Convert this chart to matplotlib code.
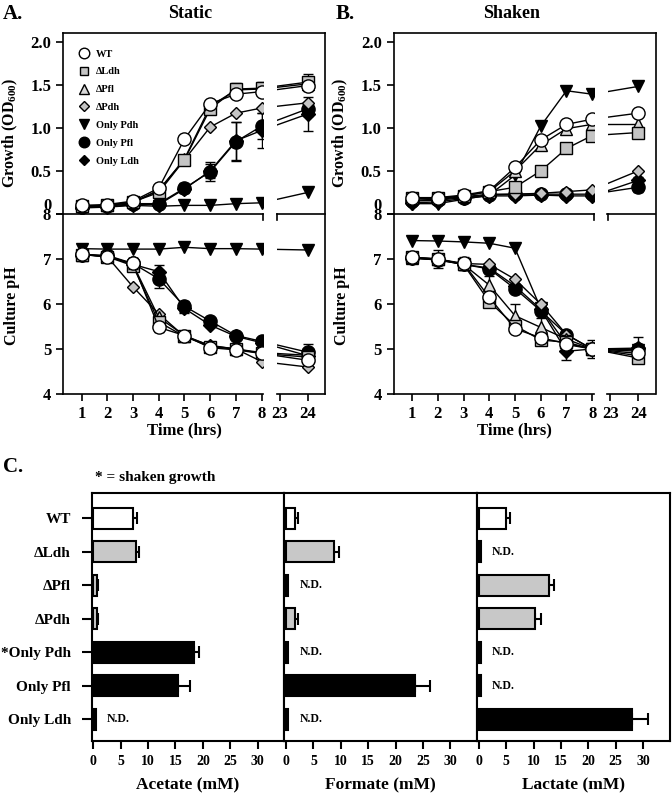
import numpy as np
import matplotlib
matplotlib.use("Agg")
import matplotlib.pyplot as plt

plt.rcParams["font.family"] = ["Liberation Serif", "DejaVu Serif"]
plt.rcParams["font.weight"] = "bold"
plt.rcParams["axes.labelweight"] = "bold"
plt.rcParams["mathtext.fontset"] = "custom"
plt.rcParams["mathtext.rm"] = "Liberation Serif"
plt.rcParams["mathtext.bf"] = "Liberation Serif:bold"

# ---- data -------------------------------------------------------------
hours = [1, 2, 3, 4, 5, 6, 7, 8, 24]
strains = ["WT", "ΔLdh", "ΔPfl", "ΔPdh", "Only Pdh", "Only Pfl", "Only Ldh"]

# rows: WT, dLdh, dPfl, dPdh, Only Pdh, Only Pfl, Only Ldh
static_od = np.array([
    [0.10, 0.11, 0.15, 0.30, 0.87, 1.28, 1.39, 1.42, 1.49],
    [0.09, 0.10, 0.14, 0.25, 0.63, 1.22, 1.45, 1.46, 1.53],
    [0.09, 0.10, 0.14, 0.27, 0.64, 1.25, 1.44, 1.45, 1.51],
    [0.09, 0.10, 0.13, 0.28, 0.63, 1.01, 1.17, 1.23, 1.29],
    [0.08, 0.08, 0.10, 0.09, 0.10, 0.10, 0.12, 0.13, 0.25],
    [0.08, 0.09, 0.12, 0.12, 0.30, 0.49, 0.84, 1.02, 1.22],
    [0.07, 0.08, 0.11, 0.11, 0.29, 0.50, 0.85, 0.97, 1.16],
])
static_od_err = np.array([
    [0, 0, 0, 0, 0.02, 0.02, 0.04, 0.04, 0.04],
    [0, 0, 0, 0, 0, 0, 0.07, 0.07, 0.10],
    [0, 0, 0, 0, 0, 0, 0, 0, 0],
    [0, 0, 0, 0, 0, 0, 0, 0, 0],
    [0, 0, 0, 0, 0, 0, 0, 0, 0],
    [0, 0, 0, 0.02, 0.06, 0.11, 0.23, 0.15, 0.08],
    [0, 0, 0, 0, 0.03, 0.08, 0.22, 0.20, 0.20],
])
static_ph = np.array([
    [7.11, 7.05, 6.90, 5.48, 5.30, 5.03, 4.98, 4.90, 4.75],
    [7.10, 7.05, 6.85, 5.60, 5.28, 5.05, 5.00, 4.90, 4.82],
    [7.10, 7.06, 6.88, 5.70, 5.30, 5.07, 5.00, 4.92, 4.86],
    [7.10, 7.05, 6.38, 5.78, 5.28, 5.08, 5.00, 4.72, 4.60],
    [7.23, 7.22, 7.22, 7.22, 7.26, 7.23, 7.23, 7.22, 7.20],
    [7.10, 7.08, 6.90, 6.56, 5.95, 5.62, 5.30, 5.17, 4.93],
    [7.09, 7.07, 6.88, 6.72, 5.90, 5.53, 5.28, 5.14, 4.85],
])
static_ph_err = np.array([
    [0, 0, 0.12, 0.10, 0.05, 0, 0, 0, 0],
    [0, 0, 0, 0, 0, 0, 0, 0, 0],
    [0, 0, 0, 0, 0, 0, 0, 0, 0],
    [0, 0, 0, 0, 0, 0, 0, 0, 0],
    [0, 0, 0, 0, 0, 0, 0, 0, 0],
    [0, 0, 0.12, 0.20, 0.12, 0.05, 0.05, 0.03, 0.18],
    [0, 0, 0.10, 0.15, 0.10, 0.05, 0.05, 0.03, 0.10],
])
shaken_od = np.array([
    [0.19, 0.19, 0.22, 0.27, 0.54, 0.86, 1.04, 1.10, 1.17],
    [0.18, 0.18, 0.21, 0.26, 0.31, 0.50, 0.76, 0.91, 0.945],
    [0.18, 0.18, 0.21, 0.26, 0.50, 0.80, 0.99, 1.04, 1.04],
    [0.16, 0.17, 0.20, 0.23, 0.23, 0.24, 0.26, 0.28, 0.50],
    [0.12, 0.12, 0.17, 0.22, 0.45, 1.02, 1.43, 1.39, 1.48],
    [0.15, 0.16, 0.19, 0.22, 0.23, 0.23, 0.23, 0.23, 0.31],
    [0.13, 0.14, 0.18, 0.21, 0.21, 0.22, 0.21, 0.21, 0.39],
])
shaken_od_err = np.array([
    [0, 0, 0, 0, 0, 0, 0, 0, 0],
    [0, 0, 0, 0, 0, 0, 0, 0, 0],
    [0, 0, 0, 0, 0, 0, 0, 0, 0],
    [0, 0, 0, 0, 0, 0, 0, 0, 0],
    [0, 0, 0, 0, 0, 0, 0, 0, 0],
    [0, 0, 0, 0, 0, 0, 0, 0, 0.05],
    [0, 0, 0, 0, 0, 0, 0, 0, 0.04],
])
shaken_ph = np.array([
    [7.04, 7.00, 6.90, 6.15, 5.45, 5.25, 5.12, 5.00, 4.90],
    [7.04, 7.00, 6.88, 6.05, 5.52, 5.20, 5.15, 5.00, 4.80],
    [7.03, 7.00, 6.88, 6.42, 5.74, 5.48, 5.22, 5.00, 4.85],
    [7.03, 6.98, 6.90, 6.88, 6.55, 6.00, 5.32, 5.00, 4.95],
    [7.41, 7.40, 7.38, 7.35, 7.24, 5.90, 5.10, 5.00, 4.98],
    [7.02, 6.98, 6.88, 6.78, 6.34, 5.85, 5.32, 5.00, 5.00],
    [7.02, 6.98, 6.88, 6.80, 6.40, 5.88, 4.95, 5.00, 5.02],
])
shaken_ph_err = np.array([
    [0, 0.20, 0.15, 0.10, 0.05, 0.05, 0.05, 0.10, 0.10],
    [0, 0, 0, 0, 0, 0, 0, 0, 0],
    [0, 0, 0.10, 0.20, 0.25, 0.20, 0.10, 0.05, 0.10],
    [0, 0, 0, 0, 0, 0, 0, 0, 0],
    [0, 0, 0, 0, 0, 0, 0, 0, 0],
    [0, 0, 0, 0, 0, 0, 0, 0, 0],
    [0, 0, 0, 0.10, 0.05, 0.05, 0.20, 0.20, 0.25],
])

# panel C (mM)
acetate = [7.3, 7.7, 0.6, 0.6, 18.4, 15.5, 0.4]
acetate_err = [0.6, 0.7, 0.3, 0.3, 0.9, 2.2, 0]
acetate_nd = [False, False, False, False, False, False, True]
formate = [1.7, 8.8, 0.4, 1.7, 0.4, 23.5, 0.4]
formate_err = [0.4, 0.8, 0, 0.4, 0, 2.7, 0]
formate_nd = [False, False, True, False, True, False, True]
lactate = [4.9, 0.4, 12.8, 10.2, 0.4, 0.4, 27.9]
lactate_err = [0.7, 0, 1.0, 1.1, 0, 0, 3.0]
lactate_nd = [False, True, False, False, True, True, False]
c_labels = ["WT", "ΔLdh", "ΔPfl", "ΔPdh", "*Only Pdh", "Only Pfl", "Only Ldh"]

# ---- styles -----------------------------------------------------------
GRAY = "#c4c4c4"
markers = ["o", "s", "^", "D", "v", "o", "D"]
faces = ["white", GRAY, "#d8d8d8", GRAY, "black", "black", "black"]
sizes = [9.5, 8, 9, 6.6, 9, 9.5, 6.8]
bar_colors = ["white", "#c8c8c8", "#c8c8c8", "#c8c8c8", "black", "black", "black"]

W, H = 672, 798
fig = plt.figure(figsize=(W / 100, H / 100), dpi=100)


def box(x0, y0, x1, y1):
    return [x0 / W, 1 - y1 / H, (x1 - x0) / W, (y1 - y0) / H]


def time_panel(dx, od, od_err, ph, ph_err, legend=False):
    bg = fig.add_axes(box(63 + dx, 33, 325 + dx, 394))
    bg.set_xticks([]); bg.set_yticks([])
    for s in ["left", "bottom"]:
        bg.spines[s].set_visible(False)
    for s in ["top", "right"]:
        bg.spines[s].set_linewidth(1.2)
    bg.patch.set_visible(False)

    g_l = fig.add_axes(box(63 + dx, 33, 263 + dx, 214))
    g_r = fig.add_axes(box(277 + dx, 33, 325 + dx, 214))
    p_l = fig.add_axes(box(63 + dx, 214, 263 + dx, 394))
    p_r = fig.add_axes(box(277 + dx, 214, 325 + dx, 394))

    for ax in (g_l, g_r, p_l, p_r):
        ax.patch.set_visible(False)
        ax.spines["top"].set_visible(False)
        ax.spines["right"].set_visible(False)
        for s in ax.spines.values():
            s.set_linewidth(1.2)
        ax.tick_params(direction="out", length=5, width=1.2, labelsize=12)
    for ax in (g_r, p_r):
        ax.spines["left"].set_visible(False)
        ax.tick_params(left=False, labelleft=False)
    for ax in (g_l, g_r):
        ax.tick_params(bottom=False, labelbottom=False)
        ax.set_ylim(0, 2.1)
    for ax in (p_l, p_r):
        ax.set_ylim(4, 8)
    for ax in (g_l, p_l):
        ax.set_xlim(0.28, 8.05)
    for ax in (g_r, p_r):
        ax.set_xlim(22.9, 24.62)

    g_l.set_yticks([0, 0.5, 1.0, 1.5, 2.0])
    g_l.set_yticklabels(["0", "0.5", "1.0", "1.5", "2.0"])
    p_l.set_yticks([4, 5, 6, 7, 8])
    p_l.set_xticks(hours[:8])
    p_r.set_xticks([23, 24])

    # break marks on the divider
    g_l.plot([1, 1], [0, -0.035], transform=g_l.transAxes, color="k",
             lw=1.2, clip_on=False)
    g_r.plot([0, 0], [0, -0.035], transform=g_r.transAxes, color="k",
             lw=1.2, clip_on=False)

    g_l.set_ylabel(r"Growth $\mathregular{(OD_{600})}$", fontsize=11.5)
    g_l.yaxis.set_label_coords(-0.215, 0.45)
    p_l.set_ylabel("Culture pH", fontsize=11.5)
    p_l.yaxis.set_label_coords(-0.215, 0.49)

    for (a_l, a_r, vals, errs) in ((g_l, g_r, od, od_err), (p_l, p_r, ph, ph_err)):
        # x position of the 8 h point expressed in the right-hand axes
        x8 = a_r.transData.inverted().transform(
            a_l.transData.transform((hours[7], a_l.get_ylim()[0])))[0]
        for i in reversed(range(len(strains))):
            z = 3 + 2 * (len(strains) - i)
            v, e = vals[i], errs[i]
            a_l.plot(hours[:8], v[:8], color="k", lw=1.0, zorder=z)
            a_l.plot(hours[:8], v[:8], linestyle="none", marker=markers[i],
                     ms=sizes[i], mfc=faces[i], mec="k", mew=1.0, zorder=z + 1,
                     label=strains[i])
            # line across the axis break, only the part right of the gap shows
            a_r.plot([x8, hours[8]], [v[7], v[8]], color="k", lw=1.0, zorder=z)
            a_r.plot(hours[8:], v[8:], linestyle="none", marker=markers[i],
                     ms=sizes[i], mfc=faces[i], mec="k", mew=1.0, zorder=z + 1)
            idx = [k for k in range(8) if e[k] > 0]
            if idx:
                a_l.errorbar([hours[k] for k in idx], [v[k] for k in idx],
                             yerr=[e[k] for k in idx], fmt="none", ecolor="k",
                             elinewidth=1.0, capsize=3.5, capthick=1.0, zorder=z)
            if e[8] > 0:
                a_r.errorbar([hours[8]], [v[8]], yerr=[e[8]], fmt="none",
                             ecolor="k", elinewidth=1.0, capsize=3.5,
                             capthick=1.0, zorder=z)
        a_r.set_xlim(22.9, 24.62)

    g_l.yaxis.get_major_ticks()[0].label1.set_verticalalignment("bottom")

    if legend:
        h, l = g_l.get_legend_handles_labels()
        g_l.legend(h[::-1], l[::-1], loc="upper left",
                   bbox_to_anchor=(0.08, 0.91), frameon=False,
                   prop={"size": 7.5, "weight": "bold"}, markerscale=0.8,
                   handlelength=1.0, handletextpad=0.6, labelspacing=0.82,
                   borderpad=0, borderaxespad=0)
    fig.text((184 + dx) / W, 1 - 430 / H, "Time (hrs)", ha="center",
             va="center", fontsize=12)


time_panel(0, static_od, static_od_err, static_ph, static_ph_err, legend=True)
time_panel(330.5, shaken_od, shaken_od_err, shaken_ph, shaken_ph_err)

fig.text(3 / W, 1 - 14 / H, "A.", fontsize=15, va="center", ha="left")
fig.text(190 / W, 1 - 13 / H, "Static", fontsize=13, va="center", ha="center")
fig.text(336 / W, 1 - 14 / H, "B.", fontsize=15, va="center", ha="left")
fig.text(512 / W, 1 - 13 / H, "Shaken", fontsize=13, va="center", ha="center")
fig.text(3 / W, 1 - 467 / H, "C.", fontsize=15, va="center", ha="left")
fig.text(155 / W, 1 - 477 / H, "* = shaken growth", fontsize=11, va="center",
         ha="center")

# ---- panel C ----------------------------------------------------------
pos = np.arange(len(c_labels))
cw = (670 - 91.7) / 3
c_sets = [("Acetate (mM)", acetate, acetate_err, acetate_nd),
          ("Formate (mM)", formate, formate_err, formate_nd),
          ("Lactate (mM)", lactate, lactate_err, lactate_nd)]
for j, (name, vals, errs, nd) in enumerate(c_sets):
    ax = fig.add_axes(box(91.7 + j * cw, 492.7, 91.7 + (j + 1) * cw, 740.7))
    ax.barh(pos, vals, height=0.63, color=bar_colors, edgecolor="k",
            linewidth=1.5, zorder=3)
    idx = [k for k in range(len(vals)) if errs[k] > 0]
    ax.errorbar([vals[k] for k in idx], pos[idx],
                xerr=[[0] * len(idx), [errs[k] for k in idx]], fmt="none",
                ecolor="k", elinewidth=1.5, capsize=4, capthick=1.5, zorder=2)
    for k in range(len(vals)):
        if nd[k]:
            ax.text(2.4, pos[k], "N.D.", fontsize=8.5, va="center", ha="left")
    ax.set_xlim(-0.3, 34.9)
    ax.set_ylim(6.64, -0.76)
    ax.set_xticks([0, 5, 10, 15, 20, 25, 30])
    for s in ax.spines.values():
        s.set_linewidth(1.5)
    ax.tick_params(axis="x", direction="out", length=6, width=1.5,
                   labelsize=10, pad=4)
    ax.set_xlabel(name, fontsize=12.5, labelpad=7)
    if j == 0:
        ax.set_yticks(pos)
        ax.set_yticklabels(c_labels)
        ax.tick_params(axis="y", direction="out", length=7, width=1.5,
                       labelsize=11, pad=8)
    else:
        ax.tick_params(axis="y", left=False, labelleft=False)

fig.savefig("out.png", dpi=100)
